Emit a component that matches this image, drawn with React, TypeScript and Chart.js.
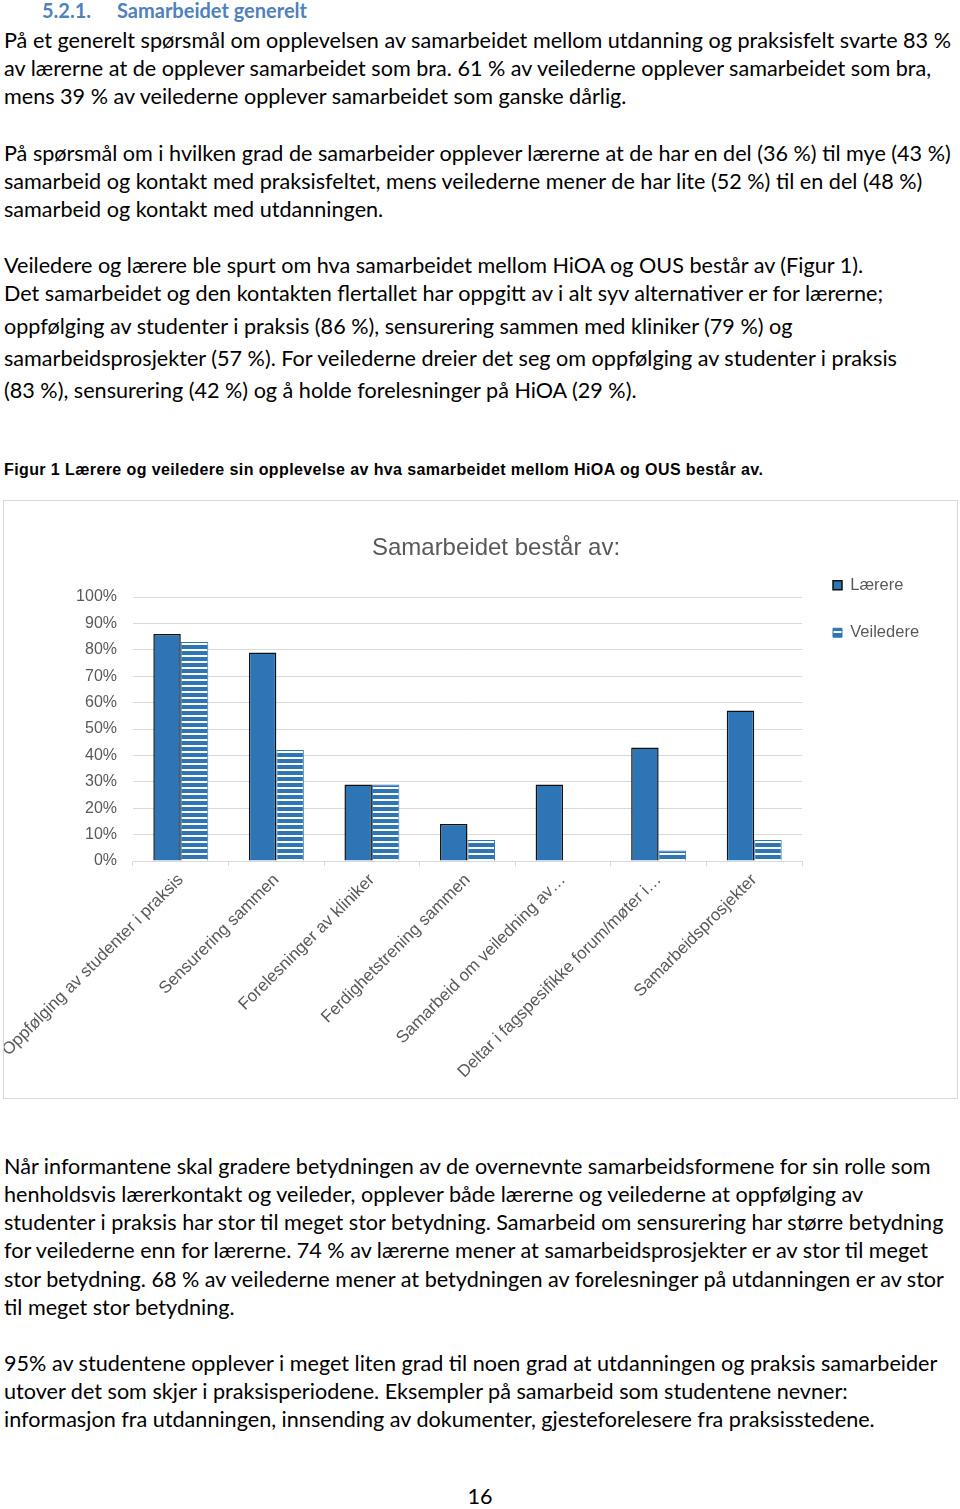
import React, { useEffect, useRef } from 'react';
import { Chart, registerables } from 'chart.js';

Chart.register(...registerables);

// ---------- chart data ----------
const chartTitle = 'Samarbeidet består av:';
const categories = [
  'Oppfølging av studenter i praksis',
  'Sensurering sammen',
  'Forelesninger av kliniker',
  'Ferdighetstrening sammen',
  'Samarbeid om veiledning av…',
  'Deltar i fagspesifikke forum/møter i…',
  'Samarbeidsprosjekter',
];
const seriesNames = ['Lærere', 'Veiledere'];
const laerereValues = [86, 79, 29, 14, 29, 43, 57];
const veiledereValues = [83, 42, 29, 8, 0, 4, 8];
const yMin = 0;
const yMax = 100;
const yStep = 10;

// ---------- page text ----------
const headingNumber = '5.2.1.';
const headingText = 'Samarbeidet generelt';
const para1 = [
  'På et generelt spørsmål om opplevelsen av samarbeidet mellom utdanning og praksisfelt svarte 83 %',
  'av lærerne at de opplever samarbeidet som bra. 61 % av veilederne opplever samarbeidet som bra,',
  'mens 39 % av veilederne opplever samarbeidet som ganske dårlig.',
];
const para2 = [
  'På spørsmål om i hvilken grad de samarbeider opplever lærerne at de har en del (36 %) til mye (43 %)',
  'samarbeid og kontakt med praksisfeltet, mens veilederne mener de har lite (52 %) til en del (48 %)',
  'samarbeid og kontakt med utdanningen.',
];
const para3 = [
  'Veiledere og lærere ble spurt om hva samarbeidet mellom HiOA og OUS består av (Figur 1).',
  'Det samarbeidet og den kontakten flertallet har oppgitt av i alt syv alternativer er for lærerne;',
  'oppfølging av studenter i praksis (86 %), sensurering sammen med kliniker (79 %) og',
  'samarbeidsprosjekter (57 %). For veilederne dreier det seg om oppfølging av studenter i praksis',
  '(83 %), sensurering (42 %) og å holde forelesninger på HiOA (29 %).',
];
const caption = 'Figur 1 Lærere og veiledere sin opplevelse av hva samarbeidet mellom HiOA og OUS består av.';
const para4 = [
  'Når informantene skal gradere betydningen av de overnevnte samarbeidsformene for sin rolle som',
  'henholdsvis lærerkontakt og veileder, opplever både lærerne og veilederne at oppfølging av',
  'studenter i praksis har stor til meget stor betydning. Samarbeid om sensurering har større betydning',
  'for veilederne enn for lærerne. 74 % av lærerne mener at samarbeidsprosjekter er av stor til meget',
  'stor betydning. 68 % av veilederne mener at betydningen av forelesninger på utdanningen er av stor',
  'til meget stor betydning.',
];
const para5 = [
  '95% av studentene opplever i meget liten grad til noen grad at utdanningen og praksis samarbeider',
  'utover det som skjer i praksisperiodene. Eksempler på samarbeid som studentene nevner:',
  'informasjon fra utdanningen, innsending av dokumenter, gjesteforelesere fra praksisstedene.',
];
const pageNumber = '16';

// baselines for each text line
const para1Base = [49, 77, 105];
const para2Base = [162, 190, 218];
const para3Base = [274, 302, 335, 367, 399];
const para4Base = [1175, 1203, 1231, 1259, 1288, 1316];
const para5Base = [1372, 1400, 1428];

const BLUE = '#2e75b6';
const GRAY = '#595959';
const GRID = '#d9d9d9';
const CHART_FONT = '"Liberation Sans", Arial, sans-serif';
const BODY_FONT = 'Lato, "Open Sans", sans-serif';
const BODY_SIZE = 21.6;

function stripePattern(): CanvasPattern | string {
  const c = document.createElement('canvas');
  c.width = 6;
  c.height = 6;
  const g = c.getContext('2d');
  if (!g) return BLUE;
  g.fillStyle = '#ffffff';
  g.fillRect(0, 0, 6, 6);
  g.fillStyle = BLUE;
  g.fillRect(0, 0, 6, 4);
  const p = g.createPattern(c, 'repeat');
  return p || BLUE;
}

function BarChart() {
  const ref = useRef<HTMLCanvasElement>(null);
  useEffect(() => {
    if (!ref.current) return;
    const pattern = stripePattern();
    const chart = new Chart(ref.current, {
      type: 'bar',
      data: {
        labels: categories,
        datasets: [
          {
            label: seriesNames[0],
            data: laerereValues,
            backgroundColor: BLUE,
            borderColor: '#111111',
            borderWidth: 1.5,
            categoryPercentage: 0.575,
            barPercentage: 1,
          },
          {
            label: seriesNames[1],
            data: veiledereValues,
            backgroundColor: pattern as any,
            borderColor: BLUE,
            borderWidth: 1,
            categoryPercentage: 0.575,
            barPercentage: 1,
          },
        ],
      },
      options: {
        animation: false,
        responsive: false,
        devicePixelRatio: 1,
        layout: { padding: { left: 66, right: 35, top: 0, bottom: 0 } },
        plugins: {
          title: {
            display: true,
            text: chartTitle,
            color: GRAY,
            font: { family: CHART_FONT, size: 24, weight: 'normal' },
            padding: { top: 33, bottom: 34.2 },
          },
          legend: {
            position: 'right',
            align: 'start',
            maxWidth: 120,
            title: { display: true, text: '', padding: 0, font: { size: 45, lineHeight: 1 } },
            labels: {
              boxWidth: 9,
              boxHeight: 9,
              padding: 31,
              color: GRAY,
              font: { family: CHART_FONT, size: 16.5 },
            },
          },
          tooltip: { enabled: false },
        },
        scales: {
          x: {
            grid: {
              display: true,
              drawOnChartArea: false,
              drawTicks: true,
              tickLength: 5,
              color: GRID,
              offset: true,
            },
            border: { display: true, color: GRID },
            ticks: {
              autoSkip: false,
              maxRotation: 45,
              minRotation: 45,
              padding: 4,
              color: GRAY,
              font: { family: CHART_FONT, size: 17 },
            },
            afterFit: (s: any) => {
              s.height = 237;
              s.paddingLeft = 0;
              s.paddingRight = 0;
            },
          },
          y: {
            min: yMin,
            max: yMax,
            ticks: {
              stepSize: yStep,
              padding: 16,
              color: GRAY,
              font: { family: CHART_FONT, size: 16 },
              callback: (v: any) => `${v}%`,
            },
            grid: { color: GRID, drawTicks: false },
            border: { display: false },
            afterFit: (s: any) => {
              s.width = 63;
            },
          },
        },
      } as any,
    });
    return () => chart.destroy();
  }, []);
  return <canvas ref={ref} width={953} height={597} style={{ display: 'block', width: 953, height: 597 }} />;
}

function Lines({ lines, baselines }: { lines: string[]; baselines: number[] }) {
  const asc = BODY_SIZE * 0.987;
  return (
    <>
      {lines.map((t, i) => (
        <div
          key={i}
          style={{
            position: 'absolute',
            left: 4,
            top: baselines[i] - asc,
            fontFamily: BODY_FONT,
            fontSize: BODY_SIZE,
            lineHeight: `${BODY_SIZE * 1.2}px`,
            whiteSpace: 'nowrap',
            color: '#000',
          }}
        >
          {t}
        </div>
      ))}
    </>
  );
}

const headingStyle: React.CSSProperties = {
  position: 'absolute',
  top: 18 - 20 * 0.987,
  fontFamily: BODY_FONT,
  fontWeight: 'bold',
  fontSize: 20,
  lineHeight: '24px',
  color: '#4f81bd',
  whiteSpace: 'nowrap',
};

export default function App() {
  return (
    <div style={{ position: 'absolute', left: 0, top: 0, width: 960, height: 1509, background: '#fff', overflow: 'hidden' }}>
      <div style={{ ...headingStyle, left: 42 }}>{headingNumber}</div>
      <div style={{ ...headingStyle, left: 117 }}>{headingText}</div>
      <Lines lines={para1} baselines={para1Base} />
      <Lines lines={para2} baselines={para2Base} />
      <Lines lines={para3} baselines={para3Base} />
      <div
        style={{
          position: 'absolute',
          left: 4,
          top: 475 - 16 * 0.905,
          fontFamily: CHART_FONT,
          fontWeight: 'bold',
          fontSize: 16,
          letterSpacing: 0.4,
          lineHeight: '17.9px',
          whiteSpace: 'nowrap',
          color: '#000',
        }}
      >
        {caption}
      </div>
      <div style={{ position: 'absolute', left: 3, top: 500, border: `1px solid ${GRID}`, width: 953, height: 597 }}>
        <BarChart />
      </div>
      <Lines lines={para4} baselines={para4Base} />
      <Lines lines={para5} baselines={para5Base} />
      <div
        style={{
          position: 'absolute',
          left: 0,
          width: 960,
          textAlign: 'center',
          top: 1505 - BODY_SIZE * 0.987,
          fontFamily: BODY_FONT,
          fontSize: BODY_SIZE,
          lineHeight: `${BODY_SIZE * 1.2}px`,
          color: '#000',
        }}
      >
        {pageNumber}
      </div>
    </div>
  );
}
